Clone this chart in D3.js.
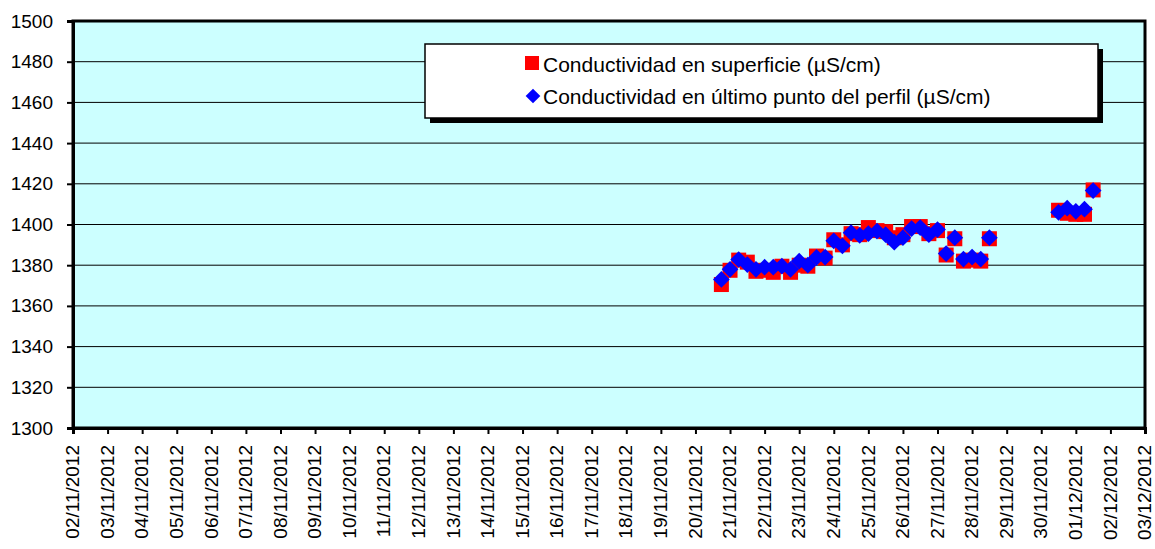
<!DOCTYPE html>
<html>
<head>
<meta charset="utf-8">
<script src="https://cdn.jsdelivr.net/npm/d3@7"></script>
<style>
  body { margin: 0; background: #fff; }
  svg { display: block; font-family: "Liberation Sans", Arial, sans-serif; }
</style>
</head>
<body>
<svg id="chart" width="1155" height="549"></svg>
<script>
// fechas de medida (dd/mm/yyyy HH:MM)
var fechas = [
  "20/11/2012 18:00", "21/11/2012 00:00", "21/11/2012 06:00", "21/11/2012 12:00", "21/11/2012 18:00",
  "22/11/2012 00:00", "22/11/2012 06:00", "22/11/2012 12:00", "22/11/2012 18:00",
  "23/11/2012 00:00", "23/11/2012 06:00", "23/11/2012 12:00", "23/11/2012 18:00",
  "24/11/2012 00:00", "24/11/2012 06:00", "24/11/2012 12:00", "24/11/2012 18:00",
  "25/11/2012 00:00", "25/11/2012 06:00", "25/11/2012 12:00", "25/11/2012 18:00",
  "26/11/2012 00:00", "26/11/2012 06:00", "26/11/2012 12:00", "26/11/2012 18:00",
  "27/11/2012 00:00", "27/11/2012 06:00", "27/11/2012 12:00", "27/11/2012 18:00",
  "28/11/2012 00:00", "28/11/2012 06:00", "28/11/2012 12:00",
  "30/11/2012 12:00", "30/11/2012 18:00", "01/12/2012 00:00", "01/12/2012 06:00", "01/12/2012 12:00"
];

// Conductividad en superficie (µS/cm)
var superficie = [
  1370.5, 1377.5, 1382.5, 1381.5, 1377,
  1377.5, 1376.5, 1379.5, 1376.5,
  1380, 1379.5, 1384.5, 1383.5,
  1392.5, 1390, 1395.5, 1395,
  1398.5, 1397, 1396.5, 1393.5,
  1395, 1399, 1399, 1395.5,
  1397, 1385, 1393, 1382,
  1382.5, 1382, 1393,
  1407, 1405.5, 1405, 1405, 1417
];

// Conductividad en último punto del perfil (µS/cm)
var perfil = [
  1373, 1378, 1382.8, 1380.3, 1378,
  1379, 1379, 1379.5, 1378,
  1382, 1380, 1383.8, 1384,
  1392, 1389.5, 1396, 1394.7,
  1395.5, 1396.7, 1395, 1391.3,
  1393.5, 1398, 1398.5, 1395,
  1397.5, 1385.7, 1393.5, 1383,
  1384, 1383, 1393.5,
  1406, 1408, 1406.5, 1407.5, 1416.7
];

var yTicks = [1300, 1320, 1340, 1360, 1380, 1400, 1420, 1440, 1460, 1480, 1500];
var fechaIni = "02/11/2012", fechaFin = "03/12/2012";
var nombres = ["Conductividad en superficie (µS/cm)", "Conductividad en último punto del perfil (µS/cm)"];

var parseHora = d3.utcParse("%d/%m/%Y %H:%M");
var parseDia = d3.utcParse("%d/%m/%Y");
var fmtDia = d3.utcFormat("%d/%m/%Y");

var svg = d3.select("#chart");
var margin = {left: 73, right: 10, top: 21, bottom: 121};
var width = +svg.attr("width"), height = +svg.attr("height");

var x = d3.scaleUtc()
  .domain([parseDia(fechaIni), parseDia(fechaFin)])
  .range([margin.left, width - margin.right]);
var y = d3.scaleLinear()
  .domain([1300, 1500])
  .range([height - margin.bottom, margin.top]);

var datos = fechas.map(function(f, i) {
  return {t: parseHora(f), sup: superficie[i], per: perfil[i]};
});

// fondo del area de trazado
svg.append("rect")
  .attr("x", x.range()[0]).attr("y", y.range()[1])
  .attr("width", x.range()[1] - x.range()[0])
  .attr("height", y.range()[0] - y.range()[1])
  .attr("fill", "#ccffff");

// lineas de division
svg.append("g")
  .selectAll("line")
  .data(yTicks.slice(1, -1))
  .enter().append("line")
  .attr("x1", x.range()[0]).attr("x2", x.range()[1])
  .attr("y1", function(d) { return y(d); })
  .attr("y2", function(d) { return y(d); })
  .attr("stroke", "#000").attr("stroke-width", 1);

// borde
svg.append("rect")
  .attr("x", x.range()[0]).attr("y", y.range()[1])
  .attr("width", x.range()[1] - x.range()[0])
  .attr("height", y.range()[0] - y.range()[1])
  .attr("fill", "none").attr("stroke", "#000").attr("stroke-width", 3);

// eje Y
var yAxis = svg.append("g")
  .attr("transform", "translate(" + x.range()[0] + ",0)")
  .call(d3.axisLeft(y).tickValues(yTicks).tickSize(6).tickPadding(14).tickFormat(d3.format("d")));
yAxis.select(".domain").attr("stroke", "#000").attr("stroke-width", 3);
yAxis.selectAll(".tick line").attr("stroke-width", 2);
yAxis.selectAll("text").attr("font-size", 19).attr("fill", "#000")
  .attr("font-family", "Liberation Sans, Arial, sans-serif");

// eje X
var dias = d3.utcDay.range(parseDia(fechaIni), d3.utcDay.offset(parseDia(fechaFin), 1));
var xAxis = svg.append("g")
  .attr("transform", "translate(0," + y.range()[0] + ")")
  .call(d3.axisBottom(x).tickValues(dias).tickSize(6).tickFormat(fmtDia));
xAxis.select(".domain").attr("stroke", "#000").attr("stroke-width", 3);
xAxis.selectAll(".tick line").attr("stroke-width", 2);
xAxis.selectAll("text")
  .attr("font-size", 19).attr("fill", "#000")
  .attr("font-family", "Liberation Sans, Arial, sans-serif")
  .attr("text-anchor", "end")
  .attr("transform", "rotate(-90)")
  .attr("x", -17).attr("y", 0).attr("dy", "0.3em");

// series
var cuadrado = d3.symbol().type(d3.symbolSquare).size(225);
var rombo = d3.symbol().type(d3.symbolSquare).size(140);

svg.append("g").selectAll("path")
  .data(datos)
  .enter().append("path")
  .attr("d", cuadrado)
  .attr("transform", function(d) { return "translate(" + x(d.t) + "," + y(d.sup) + ")"; })
  .attr("fill", "#ff0000");

svg.append("g").selectAll("path")
  .data(datos)
  .enter().append("path")
  .attr("d", rombo)
  .attr("transform", function(d) { return "translate(" + x(d.t) + "," + y(d.per) + ") rotate(45)"; })
  .attr("fill", "#0000ff");

// leyenda
var ley = svg.append("g");
ley.append("rect")
  .attr("x", 430).attr("y", 49).attr("width", 673).attr("height", 74)
  .attr("fill", "#000");
ley.append("rect")
  .attr("x", 425).attr("y", 44).attr("width", 673).attr("height", 74)
  .attr("fill", "#fff").attr("stroke", "#000").attr("stroke-width", 1.5);
ley.append("path")
  .attr("d", d3.symbol().type(d3.symbolSquare).size(196))
  .attr("transform", "translate(532,63)")
  .attr("fill", "#ff0000");
ley.append("path")
  .attr("d", d3.symbol().type(d3.symbolSquare).size(108))
  .attr("transform", "translate(533,96) rotate(45)")
  .attr("fill", "#0000ff");
ley.selectAll("text")
  .data(nombres)
  .enter().append("text")
  .attr("x", 543)
  .attr("y", function(d, i) { return 64 + i * 32; })
  .attr("dy", "0.36em")
  .attr("font-size", 21)
  .text(function(d) { return d; });
</script>
</body>
</html>
